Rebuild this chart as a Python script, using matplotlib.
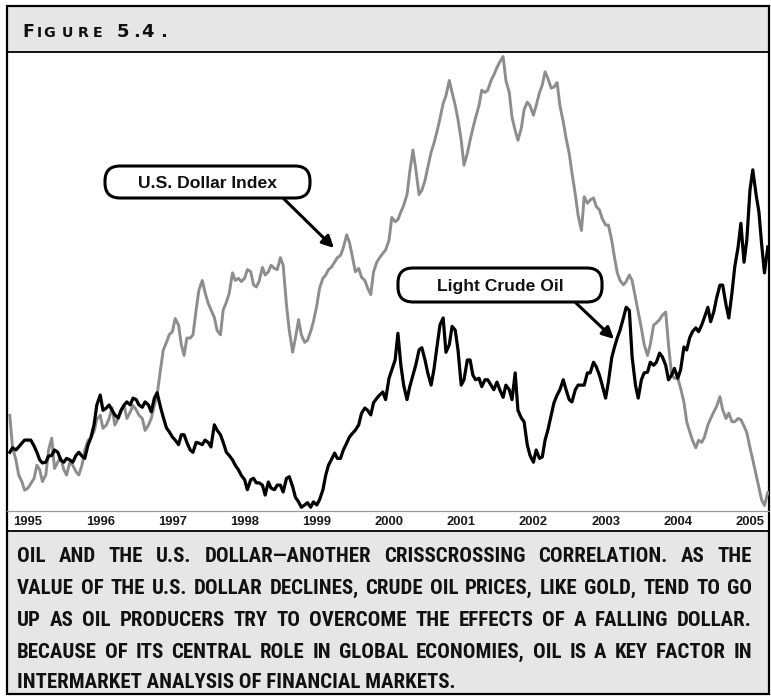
import matplotlib
matplotlib.use("Agg")
import matplotlib.pyplot as plt
from matplotlib.patches import FancyBboxPatch, Rectangle
from matplotlib import font_manager
import pandas as pd

# ---------------- data (semi-monthly) ----------------
dates = pd.date_range("1994-10-01", "2005-04-01", freq="SMS")

dollar_index = [
    87.4, 84.4, 83.3, 81.9, 81.3, 80.5, 80.7, 81.1, 81.6, 82.8,
    82.4, 81.3, 81.9, 84.2, 85.3, 82.5, 83.1, 83.5, 82.4, 81.9,
    83.1, 82.8, 82.2, 81.9, 82.8, 84.2, 85.1, 85.3, 85.9, 87.0,
    87.4, 86.2, 86.5, 87.1, 88.1, 86.5, 87.1, 87.7, 88.3, 87.1,
    87.7, 88.3, 87.9, 87.4, 87.1, 86.0, 86.5, 87.1, 88.3, 89.3,
    91.6, 93.4, 94.1, 94.8, 95.1, 96.3, 95.7, 93.9, 92.9, 94.5,
    94.5, 94.8, 97.1, 98.9, 99.8, 98.7, 97.7, 97.1, 96.4, 95.2,
    94.8, 97.1, 97.8, 98.6, 100.5, 99.8, 100.0, 99.7, 100.0, 100.8,
    100.6, 99.4, 99.2, 99.7, 101.0, 100.3, 100.6, 101.2, 100.9, 100.8,
    101.9, 101.2, 97.5, 95.2, 93.2, 94.5, 96.2, 94.8, 94.1, 94.3,
    95.1, 96.0, 97.5, 99.1, 100.0, 100.3, 100.8, 101.0, 101.5, 101.9,
    102.1, 102.8, 104.0, 103.3, 101.9, 100.6, 100.9, 100.1, 99.8, 99.1,
    98.5, 100.6, 101.5, 101.9, 102.3, 102.6, 103.5, 105.6, 105.2, 105.4,
    106.1, 106.7, 107.7, 109.8, 111.8, 110.1, 107.7, 108.1, 109.0, 110.2,
    111.6, 112.4, 113.6, 114.7, 116.1, 116.8, 118.2, 117.1, 115.9, 114.6,
    112.7, 110.4, 111.5, 112.7, 113.8, 114.8, 115.9, 117.3, 117.1, 117.3,
    118.2, 118.7, 119.4, 119.9, 120.4, 118.2, 117.1, 114.8, 113.6, 112.7,
    113.8, 115.5, 116.2, 115.9, 115.0, 115.9, 117.1, 117.8, 119.0, 118.4,
    117.5, 117.6, 118.0, 115.9, 114.4, 112.9, 111.5, 109.7, 107.7, 105.8,
    104.4, 107.5, 106.9, 107.2, 107.4, 106.6, 106.3, 105.5, 104.9, 104.9,
    103.5, 101.9, 100.5, 99.8, 99.4, 99.7, 100.3, 99.8, 98.2, 96.9,
    95.4, 93.9, 92.9, 93.9, 95.7, 95.9, 96.2, 96.6, 96.9, 93.9,
    91.1, 90.8, 90.8, 89.9, 88.6, 86.8, 85.9, 85.1, 84.4, 85.1,
    84.9, 85.4, 86.5, 87.1, 87.7, 88.2, 89.1, 87.9, 87.1, 87.6,
    86.8, 86.8, 87.1, 87.0, 86.4, 85.8, 84.4, 83.3, 81.9, 80.7,
    79.6, 79.1, 80.3,
]

crude_oil = [
    18.0, 18.6, 18.3, 18.7, 19.2, 19.6, 19.6, 19.6, 18.8, 18.0,
    17.0, 16.6, 16.7, 17.5, 17.6, 18.3, 18.0, 17.0, 16.7, 17.2,
    17.0, 16.7, 17.6, 18.0, 17.5, 17.2, 19.0, 19.9, 21.6, 24.2,
    25.5, 23.5, 23.8, 24.2, 23.5, 22.9, 22.5, 23.5, 24.2, 24.6,
    24.2, 25.1, 24.9, 24.2, 23.9, 24.6, 24.2, 23.3, 25.1, 25.8,
    23.9, 22.6, 21.2, 20.7, 20.0, 19.6, 19.0, 20.3, 20.3, 19.3,
    18.3, 18.0, 19.3, 19.2, 19.0, 19.6, 19.3, 18.7, 21.6, 20.9,
    20.3, 19.3, 18.0, 17.6, 17.0, 16.3, 15.7, 15.0, 14.4, 13.1,
    14.4, 14.6, 14.0, 14.0, 13.7, 12.4, 14.1, 13.3, 13.1, 13.7,
    13.7, 12.8, 14.6, 14.8, 13.5, 12.1, 11.5, 10.8, 11.1, 11.4,
    10.8, 11.5, 11.1, 11.8, 13.1, 15.0, 16.3, 17.0, 17.9, 17.2,
    17.2, 18.3, 19.2, 20.0, 20.5, 20.9, 21.6, 23.1, 23.8, 23.5,
    22.9, 24.5, 25.1, 25.5, 25.9, 24.9, 27.7, 28.8, 30.1, 33.6,
    29.4, 26.8, 24.9, 26.6, 28.1, 29.4, 31.4, 31.7, 30.1, 28.4,
    26.8, 28.8, 32.1, 34.7, 35.6, 31.1, 32.1, 34.5, 34.0, 31.4,
    26.8, 27.5, 30.1, 30.1, 28.1, 27.5, 27.7, 26.6, 27.5, 27.5,
    26.8, 26.2, 27.2, 26.2, 25.2, 26.8, 26.2, 24.9, 28.4, 23.5,
    22.5, 22.0, 19.0, 17.6, 16.7, 18.3, 17.2, 17.4, 19.6, 20.9,
    22.9, 24.5, 25.5, 26.2, 27.5, 26.2, 24.9, 24.6, 26.2, 26.8,
    26.8, 26.8, 28.4, 28.4, 29.8, 29.2, 28.1, 26.8, 25.1, 27.2,
    30.4, 31.8, 33.0, 34.0, 35.6, 37.0, 36.6, 30.5, 26.8, 25.1,
    27.5, 28.4, 28.5, 29.8, 29.4, 29.8, 31.0, 30.5, 29.4, 27.5,
    28.1, 29.0, 27.7, 28.8, 31.8, 31.4, 33.0, 33.8, 34.3, 33.8,
    34.7, 35.7, 37.0, 35.1, 36.4, 38.2, 39.9, 39.9, 37.3, 35.6,
    38.9, 42.3, 44.9, 48.0, 42.9, 45.8, 52.4, 55.0, 51.7, 49.5,
    45.2, 41.5, 44.9,
]

year_ticks = list(range(1995, 2006))
year_labels = [str(y) for y in year_ticks]

dollar_label = "U.S. Dollar Index"
oil_label = "Light Crude Oil"

caption_lines = [
    "OIL AND THE U.S. DOLLAR\u2014ANOTHER CRISSCROSSING CORRELATION. AS THE",
    "VALUE OF THE U.S. DOLLAR DECLINES, CRUDE OIL PRICES, LIKE GOLD, TEND TO GO",
    "UP AS OIL PRODUCERS TRY TO OVERCOME THE EFFECTS OF A FALLING DOLLAR.",
    "BECAUSE OF ITS CENTRAL ROLE IN GLOBAL ECONOMIES, OIL IS A KEY FACTOR IN",
    "INTERMARKET ANALYSIS OF FINANCIAL MARKETS.",
]

# ---------------- figure setup ----------------
W, H = 771, 696
fig = plt.figure(figsize=(W / 100, H / 100), dpi=100)
fig.patch.set_facecolor("white")

bg = fig.add_axes([0, 0, 1, 1], zorder=0)
bg.set_xlim(0, W)
bg.set_ylim(H, 0)
bg.axis("off")

PANEL = "#e6e6e6"
LEFT, RIGHT, TOP, BOT = 7, 769, 6, 694
HEADER_BOT = 52
PLOT_BOT = 510
CAP_TOP = 531

bg.add_patch(Rectangle((LEFT, TOP), RIGHT - LEFT, HEADER_BOT - TOP, fc=PANEL, ec="none"))
bg.add_patch(Rectangle((LEFT, CAP_TOP), RIGHT - LEFT, BOT - CAP_TOP, fc=PANEL, ec="none"))
bg.plot([LEFT, RIGHT], [HEADER_BOT, HEADER_BOT], color="black", lw=1.3)
bg.plot([LEFT, RIGHT], [CAP_TOP, CAP_TOP], color="black", lw=1.3)
bg.plot([LEFT, RIGHT], [PLOT_BOT + 1, PLOT_BOT + 1], color="#9a9a9a", lw=0.9)
bg.add_patch(Rectangle((LEFT, TOP), RIGHT - LEFT, BOT - TOP, fc="none", ec="black", lw=1.6))

# header "FIGURE 5.4." in small caps
hdr_font = dict(family="DejaVu Sans", weight="bold", color="#111111", va="baseline")
bg.text(22, 37, "F", fontsize=12.5, **hdr_font)
for ch, xx in zip("IGURE", [37, 43, 62, 78, 93]):
    bg.text(xx, 37, ch, fontsize=10.3, **hdr_font)
for ch, xx in zip("5.4.", [117, 133, 141, 160]):
    bg.text(xx, 37, ch, fontsize=13, **hdr_font)

# ---------------- data axes ----------------
def px_to_year(px):
    return 1994.612 + px / 72.2

ax = fig.add_axes([LEFT / W + 0.0013, 1 - PLOT_BOT / H, (RIGHT - LEFT - 1) / W,
                   (PLOT_BOT - HEADER_BOT) / H], zorder=5)
ax.patch.set_visible(False)
ax2 = ax.twinx()
ax2.patch.set_visible(False)

xdec = dates.year + (dates.dayofyear - 1) / 365.25

ax.plot(xdec, dollar_index, color="#8d8d8d", lw=2.1)
ax2.plot(xdec, crude_oil, color="black", lw=2.3)

ax.set_xlim(px_to_year(8), px_to_year(769))
ax.set_ylim(78.68, 120.82)
ax2.set_ylim(10.44, 70.44)

for a in (ax, ax2):
    for s in a.spines.values():
        s.set_visible(False)
    a.set_yticks([])
ax.set_xticks(year_ticks)
ax.set_xticklabels(year_labels, fontfamily="Liberation Sans", fontweight="bold",
                   fontsize=9.4, color="#1a1a1a")
ax.tick_params(axis="x", length=0, pad=4.0)

# ---------------- callouts ----------------
ov = fig.add_axes([0, 0, 1, 1], zorder=10)
ov.set_xlim(0, W)
ov.set_ylim(H, 0)
ov.axis("off")

def callout(x0, y0, x1, y1, label):
    box = FancyBboxPatch((x0, y0), x1 - x0, y1 - y0,
                         boxstyle="round,pad=0,rounding_size=15",
                         fc="white", ec="black", lw=2.2, zorder=11)
    ov.add_patch(box)
    ov.text((x0 + x1) / 2, (y0 + y1) / 2 + 1, label, ha="center", va="center",
            fontfamily="Liberation Sans", fontweight="bold", fontsize=12.6,
            color="#111111", zorder=12)

callout(105, 166, 310, 198, dollar_label)
callout(398, 268, 602, 302, oil_label)

arrow_kw = dict(arrowstyle="-|>,head_length=0.7,head_width=0.35", lw=2.2,
                color="black", shrinkA=0, shrinkB=0)
ov.annotate("", xy=(334, 248), xytext=(284, 199), arrowprops=arrow_kw, zorder=12)
ov.annotate("", xy=(614, 339), xytext=(576, 303), arrowprops=arrow_kw, zorder=12)

# ---------------- caption (justified) ----------------
available = {f.name for f in font_manager.fontManager.ttflist}
cap_family = "Liberation Sans"
cap_stretch = "normal"
for cand in ["Liberation Sans Narrow", "DejaVu Sans Condensed", "Roboto Condensed"]:
    if cand in available:
        cap_family = cand
        break

renderer = fig.canvas.get_renderer()
CAP_L, CAP_R = 17, 752
line_y = [556, 588, 620, 652, 683]

def width_px(txt, size):
    t = bg.text(0, 0, txt, fontsize=size, fontfamily=cap_family,
                fontstretch=cap_stretch, fontweight="bold")
    w = t.get_window_extent(renderer).width
    t.remove()
    return w

base = 15.0
maxw = max(width_px(l, base) for l in caption_lines)
size = min(base, base * (CAP_R - CAP_L - 2) / maxw)

for i, (line, yy) in enumerate(zip(caption_lines, line_y)):
    words = line.split(" ")
    if i == len(caption_lines) - 1:
        bg.text(CAP_L, yy, line, fontsize=size, fontfamily=cap_family,
                fontstretch=cap_stretch, fontweight="bold", color="#111111",
                va="center", ha="left")
        continue
    widths = [width_px(w, size) for w in words]
    gap = (CAP_R - CAP_L - sum(widths)) / (len(words) - 1)
    x = CAP_L
    for w, wd in zip(words, widths):
        bg.text(x, yy, w, fontsize=size, fontfamily=cap_family,
                fontstretch=cap_stretch, fontweight="bold", color="#111111",
                va="center", ha="left")
        x += wd + gap

fig.savefig("out.png", dpi=100)
